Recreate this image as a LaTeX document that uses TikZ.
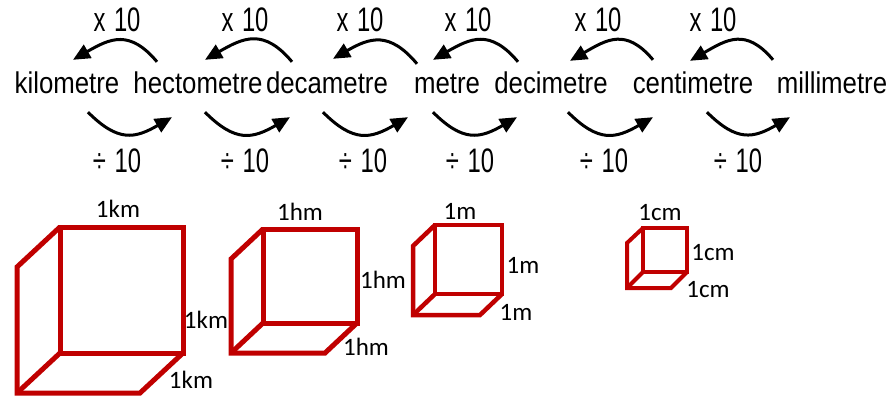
\documentclass[tikz,border=0pt]{standalone}
\usepackage{fontspec}
\setmainfont{Liberation Sans}[FakeStretch=0.86]
\newfontfamily\factorfont{Liberation Sans}[FakeStretch=0.7, WordSpace=1.3]
\newfontfamily\sidefont{Carlito}
\usepackage{xcolor}
\usepackage{tikz}
\usetikzlibrary{positioning, arrows.meta}
\definecolor{cubered}{HTML}{C00000}

\begin{document}
\begin{tikzpicture}[x=1pt, y=1pt, on grid, >={Triangle[length=17pt, width=15pt]},
    unit/.style={font=\fontsize{30}{30}\selectfont, inner sep=0pt, text height=21pt, text depth=0pt},
    factor/.style={font=\factorfont\fontsize{34}{34}\selectfont, inner sep=0pt},
    swap/.style={->, line width=3pt},
    side/.style={font=\sidefont\fontsize{25}{25}\selectfont, inner sep=0pt},
    cube/.style={draw=cubered, line width=5pt}]
    \useasboundingbox (0,0) rectangle (894,-397);

    % Units
    \node[unit]                      (km)  at (67,-82.5) {kilometre};
    \node[unit, right=131pt of km]   (hm)  {hectometre};
    \node[unit, right=129pt of hm]   (dam) {decametre};
    \node[unit, right=120pt of dam]  (m)   {metre};
    \node[unit, right=104pt of m]    (dm)  {decimetre};
    \node[unit, right=142pt of dm]   (cm)  {centimetre};
    \node[unit, right=139pt of cm]   (mm)  {millimetre};

    % Multiply arrows (right to left)
    \path[swap]
      ([shift={(-41,10)}]hm.north)  edge[out=130, in=30, looseness=1.3] ([shift={(6,12)}]km.north)
      ([shift={(-35,10)}]dam.north) edge[out=130, in=30, looseness=1.3] ([shift={(7,12)}]hm.north)
      ([shift={(-30,8)}]m.north)    edge[out=130, in=30, looseness=1.3] ([shift={(6,13)}]dam.north)
      ([shift={(-33,10)}]dm.north)  edge[out=130, in=30, looseness=1.3] ([shift={(-14,12)}]m.north)
      ([shift={(-40,12)}]cm.north)  edge[out=130, in=30, looseness=1.3] ([shift={(19,11)}]dm.north)
      ([shift={(-59,12)}]mm.north)  edge[out=130, in=30, looseness=1.3] ([shift={(-3,11)}]cm.north);

    % Divide arrows (left to right)
    \path[swap]
      ([shift={(21,-19)}]km.south)  edge[out=-45, in=210, looseness=1.3] ([shift={(-26,-24)}]hm.south)
      ([shift={(7,-19)}]hm.south)   edge[out=-45, in=210, looseness=1.3] ([shift={(-37,-24)}]dam.south)
      ([shift={(-4,-19)}]dam.south) edge[out=-45, in=210, looseness=1.3] ([shift={(-39,-24)}]m.south)
      ([shift={(-14,-19)}]m.south)  edge[out=-45, in=210, looseness=1.3] ([shift={(-34,-24)}]dm.south)
      ([shift={(17,-19)}]dm.south)  edge[out=-45, in=210, looseness=1.3] ([shift={(-40,-24)}]cm.south)
      ([shift={(14,-19)}]cm.south)  edge[out=-45, in=210, looseness=1.3] ([shift={(-42,-24)}]mm.south);

    % Factors
    \node[factor] (mul1) at (117,-19.5) {x 10};
    \node[factor] (mul2) at (245,-19.5) {x 10};
    \node[factor] (mul3) at (360,-19.5) {x 10};
    \node[factor] (mul4) at (468,-19.5) {x 10};
    \node[factor] (mul5) at (598,-19.5) {x 10};
    \node[factor] (mul6) at (713,-19.5) {x 10};
    \node[factor] (div1) at (117,-160.5) {÷ 10};
    \node[factor] (div2) at (245,-160.5) {÷ 10};
    \node[factor] (div3) at (363,-160.5) {÷ 10};
    \node[factor] (div4) at (470,-160.5) {÷ 10};
    \node[factor] (div5) at (604,-160.5) {÷ 10};
    \node[factor] (div6) at (738,-160.5) {÷ 10};

    % Cubes
    \draw[cube] (60,-227) rectangle (183,-353);
    \draw[cube] (60,-227) -- ++(-43,-40) -- ++(0,-126) -- ++(123,0) -- (183,-353);
    \draw[cube] (60,-353) -- ++(-43,-40);

    \draw[cube] (263,-229) rectangle (357,-323);
    \draw[cube] (263,-229) -- ++(-32,-30) -- ++(0,-94) -- ++(94,0) -- (357,-323);
    \draw[cube] (263,-323) -- ++(-32,-30);

    \draw[cube, line width=4.5pt] (435,-225) rectangle (502,-294);
    \draw[cube, line width=4.5pt] (435,-225) -- ++(-22,-21) -- ++(0,-69) -- ++(67,0) -- (502,-294);
    \draw[cube, line width=4.5pt] (435,-294) -- ++(-22,-21);

    \draw[cube, line width=4pt] (643,-228) rectangle (687,-272);
    \draw[cube, line width=4pt] (643,-228) -- ++(-16,-15) -- ++(0,-45) -- ++(44,0) -- (687,-272);
    \draw[cube, line width=4pt] (643,-272) -- ++(-16,-16);

    % Side labels
    \node[side] (kmtop)   at (118,-209) {1km};
    \node[side] (kmright) at (206,-320) {1km};
    \node[side] (kmdepth) at (191,-380) {1km};
    \node[side] (hmtop)   at (300,-212) {1hm};
    \node[side] (hmright) at (383,-280) {1hm};
    \node[side] (hmdepth) at (366,-347) {1hm};
    \node[side] (mtop)    at (460,-211) {1m};
    \node[side] (mright)  at (523,-265) {1m};
    \node[side] (mdepth)  at (516,-312) {1m};
    \node[side] (cmtop)   at (660,-213) {1cm};
    \node[side] (cmright) at (713,-253) {1cm};
    \node[side] (cmdepth) at (708,-290) {1cm};
\end{tikzpicture}
\end{document}
